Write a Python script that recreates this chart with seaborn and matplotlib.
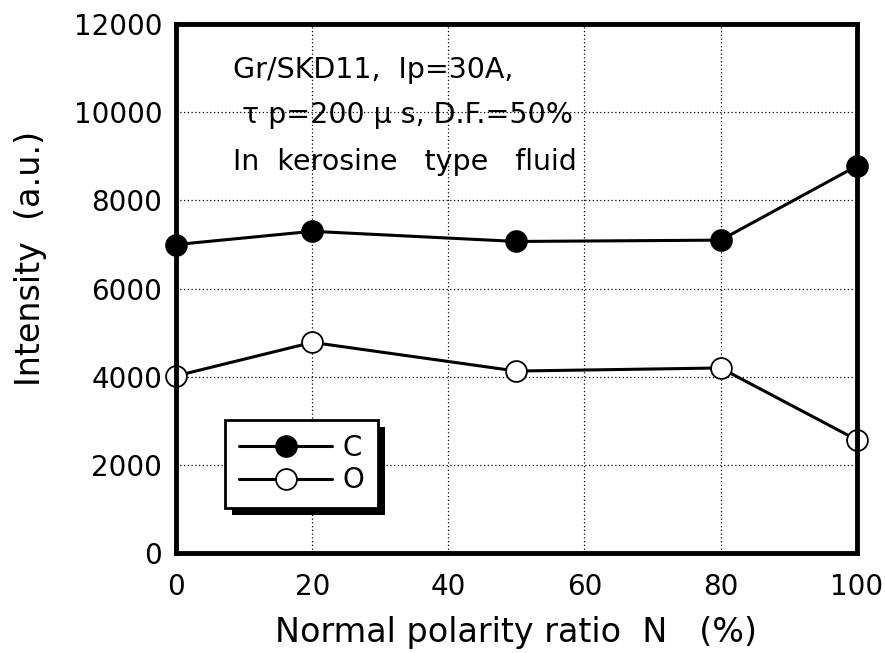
import matplotlib
matplotlib.use("Agg")
import matplotlib.pyplot as plt
import matplotlib.patheffects as pe
import seaborn as sns
import pandas as pd

# Emission intensity vs. normal polarity ratio
ratio = [0, 20, 50, 80, 100]
carbon = [7000, 7300, 7070, 7100, 8780]
oxygen = [4020, 4780, 4130, 4200, 2570]
x_ticks = [0, 20, 40, 60, 80, 100]
y_ticks = [0, 2000, 4000, 6000, 8000, 10000, 12000]

df = pd.DataFrame({
    "N": ratio * 2,
    "Intensity": carbon + oxygen,
    "Element": ["C"] * len(ratio) + ["O"] * len(ratio),
})

sns.set_theme(style="white")
plt.rcParams["font.family"] = ["DejaVu Sans"]
plt.rcParams.update({"text.color": "black", "axes.labelcolor": "black",
                     "xtick.color": "black", "ytick.color": "black"})

fig = plt.figure(figsize=(8.85, 6.53), dpi=100)
ax = fig.add_axes([0.199, 0.153, 0.769, 0.810])

faces = {"C": "black", "O": "white"}
for elem, face in faces.items():
    sub = df[df["Element"] == elem]
    sns.lineplot(data=sub, x="N", y="Intensity", ax=ax, color="black",
                 linewidth=2.2, marker="o", markersize=15,
                 markerfacecolor=face, markeredgecolor="black",
                 markeredgewidth=1.3, label=elem, zorder=3, clip_on=False)

ax.set_xlim(0, 100)
ax.set_ylim(0, 12000)
ax.set_xticks(x_ticks)
ax.set_yticks(y_ticks)
ax.grid(True, color="black", linestyle=(0, (1, 2)), linewidth=0.9)
for s in ax.spines.values():
    s.set_linewidth(3.5)
    s.set_color("black")
    s.set_zorder(4)
ax.tick_params(direction="in", length=17, width=3, colors="black",
               labelsize=20)
ax.tick_params(axis="y", pad=10)
ax.tick_params(axis="x", pad=14)

ax.set_xlabel("Normal polarity ratio  N   (%)", fontsize=24, labelpad=11)
ax.set_ylabel("Intensity  (a.u.)", fontsize=24)
ax.yaxis.set_label_coords(-0.19, 0.558)

txt = dict(transform=ax.transAxes, fontsize=20.5, va="center", ha="left")
ax.text(0.084, 0.913, "Gr/SKD11,  Ip=30A,", **txt)
ax.text(0.097, 0.828, "\u03c4 p=200 \u03bc s, D.F.=50%", **txt)
ax.text(0.084, 0.739, "In  kerosine   type   fluid", **txt)

leg = ax.legend(loc="lower left", bbox_to_anchor=(0.072, 0.085),
                fontsize=20, frameon=True, fancybox=False, numpoints=1,
                handlelength=3.35, borderpad=0.5, labelspacing=0.15,
                handletextpad=0.36, borderaxespad=0)
frame = leg.get_frame()
frame.set_edgecolor("black")
frame.set_linewidth(2)
frame.set_alpha(1)
frame.set_path_effects([pe.SimplePatchShadow(offset=(5, -5),
                                             shadow_rgbFace="black", alpha=1),
                        pe.Normal()])

fig.savefig("out.png", dpi=100, facecolor="white")
